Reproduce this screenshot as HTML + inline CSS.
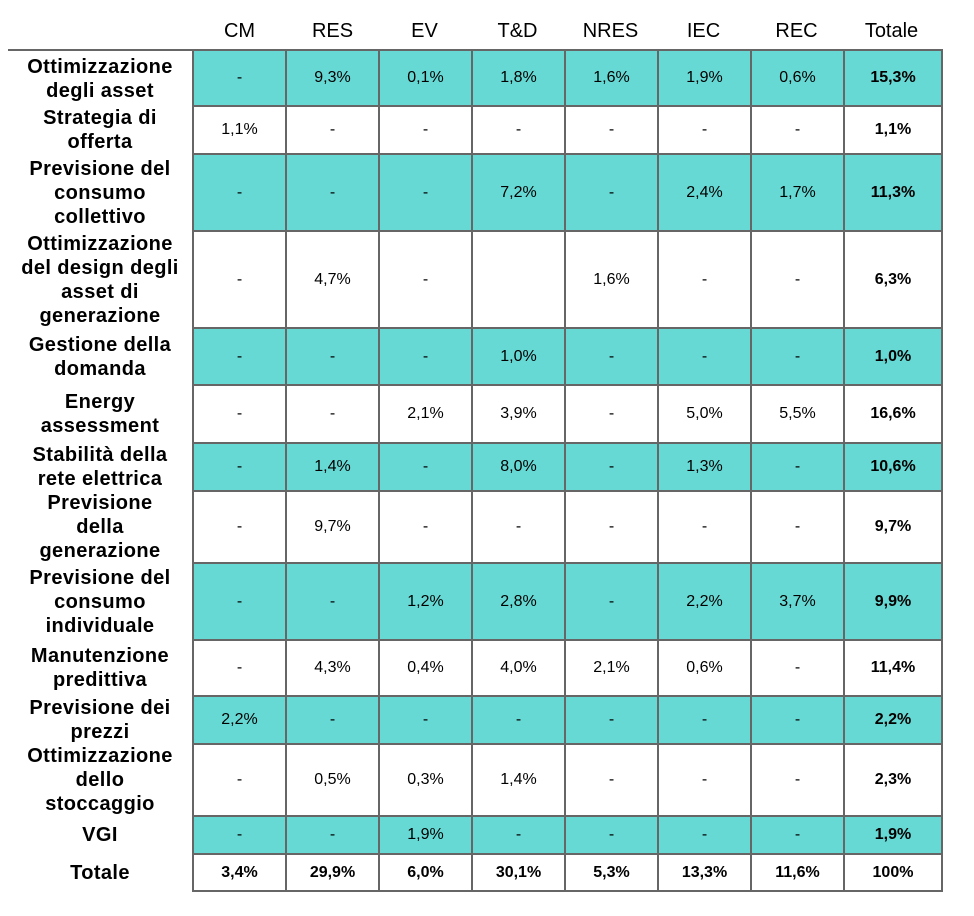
<!DOCTYPE html>
<html><head><meta charset="utf-8"><style>
body{margin:0;background:#fff;width:974px;height:916px;position:relative;font-family:"Liberation Sans",sans-serif;color:#000}
.hd{position:absolute;top:20px;font-size:20px;text-align:center;width:93px}
table{position:absolute;left:8px;top:49px;border-collapse:collapse;table-layout:fixed}
td{border:2px solid #666;text-align:center;font-size:16px;padding:0;vertical-align:middle}
td.l{border-left:none;border-top:none;border-bottom:none;font-weight:bold;font-size:20px;line-height:24px;letter-spacing:0.4px}
tr.f td.l{border-top:2px solid #666}
tr.t td{background:#67d9d4}
tr.t td.l{background:#fff}
td.b{font-weight:bold}
tr.tot td{font-weight:bold;font-size:16px}
</style></head><body>
<div class="hd" style="left:193px">CM</div>
<div class="hd" style="left:286px">RES</div>
<div class="hd" style="left:378px">EV</div>
<div class="hd" style="left:471px">T&amp;D</div>
<div class="hd" style="left:564px">NRES</div>
<div class="hd" style="left:657px">IEC</div>
<div class="hd" style="left:750px">REC</div>
<div class="hd" style="left:845px">Totale</div>
<table>
<colgroup><col style="width:185px"><col style="width:93px"><col style="width:93px"><col style="width:93px"><col style="width:93px"><col style="width:93px"><col style="width:93px"><col style="width:93px"><col style="width:98px"></colgroup>
<tr class="t f" style="height:56px"><td class="l">Ottimizzazione<br>degli asset</td><td>-</td><td>9,3%</td><td>0,1%</td><td>1,8%</td><td>1,6%</td><td>1,9%</td><td>0,6%</td><td class="b">15,3%</td></tr>
<tr style="height:48px"><td class="l">Strategia di<br>offerta</td><td>1,1%</td><td>-</td><td>-</td><td>-</td><td>-</td><td>-</td><td>-</td><td class="b">1,1%</td></tr>
<tr class="t" style="height:77px"><td class="l">Previsione del<br>consumo<br>collettivo</td><td>-</td><td>-</td><td>-</td><td>7,2%</td><td>-</td><td>2,4%</td><td>1,7%</td><td class="b">11,3%</td></tr>
<tr style="height:97px"><td class="l">Ottimizzazione<br>del design degli<br>asset di<br>generazione</td><td>-</td><td>4,7%</td><td>-</td><td></td><td>1,6%</td><td>-</td><td>-</td><td class="b">6,3%</td></tr>
<tr class="t" style="height:57px"><td class="l">Gestione della<br>domanda</td><td>-</td><td>-</td><td>-</td><td>1,0%</td><td>-</td><td>-</td><td>-</td><td class="b">1,0%</td></tr>
<tr style="height:58px"><td class="l">Energy<br>assessment</td><td>-</td><td>-</td><td>2,1%</td><td>3,9%</td><td>-</td><td>5,0%</td><td>5,5%</td><td class="b">16,6%</td></tr>
<tr class="t" style="height:48px"><td class="l">Stabilità della<br>rete elettrica</td><td>-</td><td>1,4%</td><td>-</td><td>8,0%</td><td>-</td><td>1,3%</td><td>-</td><td class="b">10,6%</td></tr>
<tr style="height:71px"><td class="l">Previsione<br>della<br>generazione</td><td>-</td><td>9,7%</td><td>-</td><td>-</td><td>-</td><td>-</td><td>-</td><td class="b">9,7%</td></tr>
<tr class="t" style="height:77px"><td class="l">Previsione del<br>consumo<br>individuale</td><td>-</td><td>-</td><td>1,2%</td><td>2,8%</td><td>-</td><td>2,2%</td><td>3,7%</td><td class="b">9,9%</td></tr>
<tr style="height:56px"><td class="l">Manutenzione<br>predittiva</td><td>-</td><td>4,3%</td><td>0,4%</td><td>4,0%</td><td>2,1%</td><td>0,6%</td><td>-</td><td class="b">11,4%</td></tr>
<tr class="t" style="height:48px"><td class="l">Previsione dei<br>prezzi</td><td>2,2%</td><td>-</td><td>-</td><td>-</td><td>-</td><td>-</td><td>-</td><td class="b">2,2%</td></tr>
<tr style="height:72px"><td class="l">Ottimizzazione<br>dello<br>stoccaggio</td><td>-</td><td>0,5%</td><td>0,3%</td><td>1,4%</td><td>-</td><td>-</td><td>-</td><td class="b">2,3%</td></tr>
<tr class="t" style="height:38px"><td class="l">VGI</td><td>-</td><td>-</td><td>1,9%</td><td>-</td><td>-</td><td>-</td><td>-</td><td class="b">1,9%</td></tr>
<tr class="tot" style="height:37px"><td class="l" style="font-size:20px">Totale</td><td>3,4%</td><td>29,9%</td><td>6,0%</td><td>30,1%</td><td>5,3%</td><td>13,3%</td><td>11,6%</td><td>100%</td></tr>
</table>
</body></html>
